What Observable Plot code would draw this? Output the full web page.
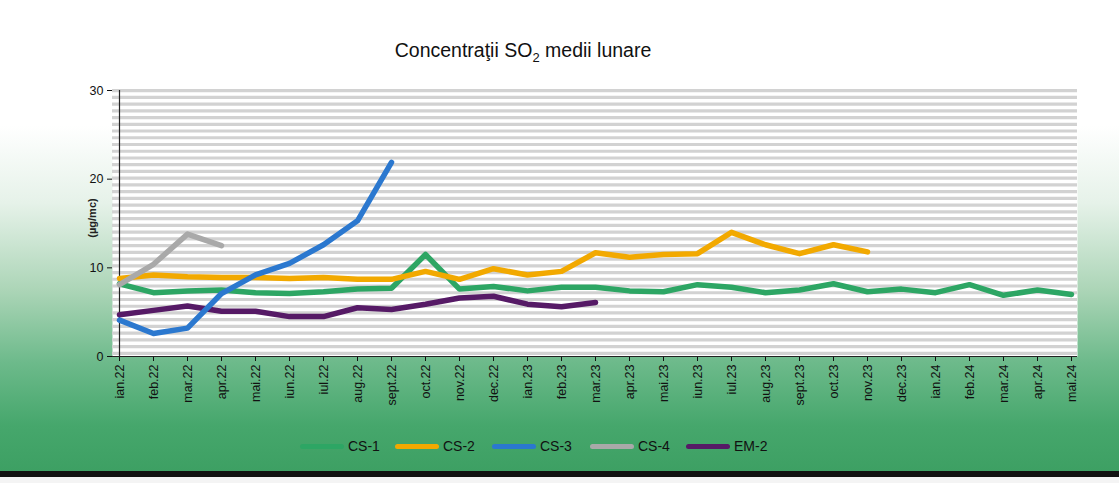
<!DOCTYPE html>
<html>
<head>
<meta charset="utf-8">
<script src="https://cdn.jsdelivr.net/npm/d3@7"></script>
<script src="https://cdn.jsdelivr.net/npm/@observablehq/plot@0.6"></script>
<style>
  html, body { margin: 0; padding: 0; }
  body { width: 1119px; height: 483px; overflow: hidden; font-family: "Liberation Sans", Arial, sans-serif; }
  #fig { position: relative; width: 1119px; height: 483px;
    background: linear-gradient(to bottom, #ffffff 0%, #ffffff 26%, #e6f2e9 42%, #acd5b7 60%, #6dba8b 75%, #46a76c 88%, #3b9e61 100%); }
  #title { position: absolute; left: 0; width: 1046px; top: 39px; text-align: center; font-size: 19.5px; color: #111; }
  #title sub { font-size: 13px; }
  #ylab { position: absolute; left: 92px; top: 218px; transform: translate(-50%, -50%) rotate(-90deg); font-size: 11px; font-weight: bold; color: #222; white-space: nowrap; }
  #chart { position: absolute; left: 0; top: 0; width: 1119px; height: 483px; }
  #chart svg text { font-size: 12.5px; fill: #111; }
  #legend { position: absolute; top: 438px; left: 0; width: 1119px; height: 20px; }
  .item { position: absolute; top: 0; display: flex; align-items: center; font-size: 14px; color: #111; }
  .sw { width: 44px; height: 5px; border-radius: 3px; margin-right: 4px; }
  #shadow { position: absolute; left: 0; top: 471px; width: 1119px; height: 6px; background: #111; }
  #below { position: absolute; left: 0; top: 477px; width: 1119px; height: 6px; background: #f4f4f4; }
</style>
</head>
<body>
<div id="fig">
  <div id="title">Concentraţii SO<sub>2</sub> medii lunare</div>
  <div id="ylab">(µg/mc)</div>
  <div id="chart"></div>
  <div id="legend"></div>
  <div id="shadow"></div>
  <div id="below"></div>
</div>
<script>
const months = ["ian.22","feb.22","mar.22","apr.22","mai.22","iun.22","iul.22","aug.22","sept.22","oct.22","nov.22","dec.22",
  "ian.23","feb.23","mar.23","apr.23","mai.23","iun.23","iul.23","aug.23","sept.23","oct.23","nov.23","dec.23",
  "ian.24","feb.24","mar.24","apr.24","mai.24"];

const cs1 = [8.2, 7.2, 7.4, 7.5, 7.2, 7.1, 7.3, 7.6, 7.7, 11.5, 7.6, 7.9,
  7.4, 7.8, 7.8, 7.4, 7.3, 8.1, 7.8, 7.2, 7.5, 8.2, 7.3, 7.6,
  7.2, 8.1, 6.9, 7.5, 7.0];
const cs2 = [8.8, 9.2, 9.0, 8.9, 8.9, 8.8, 8.9, 8.7, 8.7, 9.6, 8.7, 9.9,
  9.2, 9.6, 11.7, 11.2, 11.5, 11.6, 14.0, 12.6, 11.6, 12.6, 11.8];
const cs3 = [4.1, 2.6, 3.2, 7.1, 9.2, 10.5, 12.6, 15.3, 21.9];
const cs4 = [8.1, 10.4, 13.8, 12.5];
const em2 = [4.7, 5.2, 5.7, 5.1, 5.1, 4.5, 4.5, 5.5, 5.3, 5.9, 6.6, 6.8, 5.9, 5.6, 6.1];

const seriesNames = ["CS-1", "CS-2", "CS-3", "CS-4", "EM-2"];
const seriesValues = [cs1, cs2, cs3, cs4, em2];
const seriesColors = ["#2da664", "#f2a900", "#2b78cf", "#a9a9a9", "#561a66"];
const drawOrder = ["CS-1", "CS-2", "EM-2", "CS-3", "CS-4"];
const yTicks = [0, 10, 20, 30];

const rows = [];
seriesNames.forEach((name, i) => {
  seriesValues[i].forEach((v, j) => rows.push({series: name, month: months[j], value: v}));
});

const stripes = d3.range(0.35, 30, 0.76);

const chart = Plot.plot({
  width: 1119,
  height: 483,
  marginLeft: 112,
  marginRight: 42,
  marginTop: 90,
  marginBottom: 127,
  style: {background: "transparent", fontFamily: "Liberation Sans, Arial, sans-serif", fontSize: "12.5px", color: "#111"},
  x: {type: "point", domain: months, range: [112, 1077], padding: 0, label: null},
  y: {domain: [0, 30], label: null},
  color: {domain: seriesNames, range: seriesColors},
  marks: [
    Plot.frame({fill: "white", stroke: "none"}),
    Plot.ruleY(stripes, {stroke: "#d2d2d2", strokeWidth: 3.2}),
    Plot.axisY({ticks: yTicks, tickSize: 5, tickPadding: 4, label: null}),
    Plot.axisX({tickRotate: -90, tickSize: 5, tickPadding: 3, label: null}),
    Plot.ruleY([0], {stroke: "#222", strokeWidth: 1.2}),
    Plot.ruleX([months[0]], {stroke: "#222", strokeWidth: 1.2}),
    ...drawOrder.map(name => Plot.line(rows.filter(d => d.series === name), {
      x: "month", y: "value", stroke: "series", strokeWidth: 5.5,
      strokeLinejoin: "round", strokeLinecap: "round"
    }))
  ]
});
document.getElementById("chart").appendChild(chart);

const legendPos = [300, 395, 492, 590, 686];
const legend = document.getElementById("legend");
seriesNames.forEach((name, i) => {
  const it = document.createElement("div");
  it.className = "item";
  it.style.left = legendPos[i] + "px";
  const sw = document.createElement("div");
  sw.className = "sw";
  sw.style.background = seriesColors[i];
  const tx = document.createElement("span");
  tx.textContent = name;
  it.appendChild(sw);
  it.appendChild(tx);
  legend.appendChild(it);
});
</script>
</body>
</html>
